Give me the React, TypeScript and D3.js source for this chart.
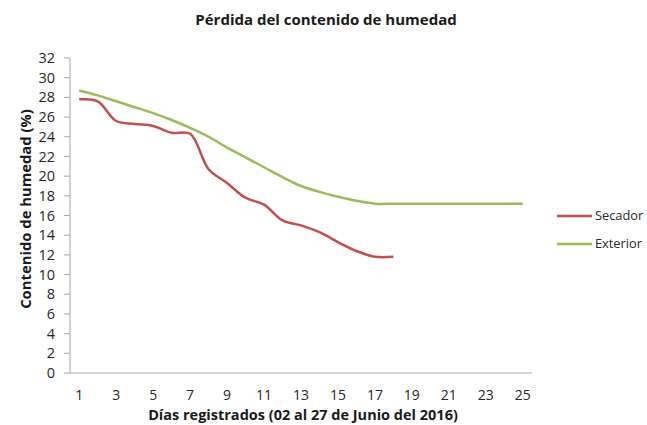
import React from 'react';
import * as d3 from 'd3';

const days = Array.from({ length: 25 }, (_, i) => i + 1);
const secador = [27.8, 27.6, 25.6, 25.3, 25.1, 24.4, 24.3, 20.7, 19.3, 17.8, 17.1, 15.5, 15.0, 14.3, 13.3, 12.4, 11.8, 11.8];
const exterior = [28.7, 28.2, 27.6, 27.0, 26.4, 25.7, 24.9, 24.0, 22.9, 21.9, 20.9, 19.9, 19.0, 18.4, 17.9, 17.5, 17.2, 17.2, 17.2, 17.2, 17.2, 17.2, 17.2, 17.2, 17.2];
const yTicks = d3.range(0, 33, 2);
const xTicks = days.filter(d => d % 2 === 1);

const series = [
  { name: 'Secador', values: secador, color: '#c0504d' },
  { name: 'Exterior', values: exterior, color: '#9bbb59' },
];

const W = 647;
const H = 425;
const font = "'Open Sans', 'Liberation Sans', sans-serif";

const App: React.FC = () => {
  const x = d3.scalePoint<number>().domain(days).range([70, 532]).padding(0.5);
  const y = d3.scaleLinear().domain([0, 32]).range([373, 58]);

  const line = d3.line<number>()
    .x((_, i) => x(days[i]) as number)
    .y(d => y(d))
    .curve(d3.curveCatmullRom.alpha(0.5));

  return (
    <svg width={W} height={H} style={{ position: 'absolute', left: 0, top: 0, background: '#fff' }} fontFamily={font}>
      <text x={326} y={25} textAnchor="middle" fontSize={15} fontWeight="bold" fill="#1a1a1a">
        Pérdida del contenido de humedad
      </text>

      {/* y axis */}
      <line x1={70} x2={70} y1={y(32)} y2={y(0)} stroke="#a6a6a6" strokeWidth={1} />
      {yTicks.map(t => (
        <g key={t}>
          <line x1={64} x2={70} y1={y(t)} y2={y(t)} stroke="#a6a6a6" />
          <text x={55} y={y(t)} dy="0.35em" textAnchor="end" fontSize={14.5} fill="#262626">{t}</text>
        </g>
      ))}

      {/* x axis */}
      <line x1={70} x2={532} y1={y(0)} y2={y(0)} stroke="#a6a6a6" strokeWidth={1} />
      {xTicks.map(t => (
        <text key={t} x={x(t)} y={395} dy="0.35em" textAnchor="middle" fontSize={14} fill="#262626">{t}</text>
      ))}

      <text x={303} y={420} textAnchor="middle" fontSize={14.5} fontWeight="bold" fill="#1a1a1a">
        Días registrados (02 al 27 de Junio del 2016)
      </text>
      <text transform={`translate(31,${209}) rotate(-90)`} textAnchor="middle" fontSize={14.8} fontWeight="bold" fill="#1a1a1a">
        Contenido de humedad (%)
      </text>

      {series.map(s => (
        <path key={s.name} d={line(s.values) || ''} fill="none" stroke={s.color} strokeWidth={2.5} />
      ))}

      {series.map((s, i) => (
        <g key={s.name} transform={`translate(0,${216 + i * 28})`}>
          <line x1={557} x2={592} y1={0} y2={0} stroke={s.color} strokeWidth={2.5} />
          <text x={595} y={0} dy="0.35em" fontSize={12.8} fill="#262626">{s.name}</text>
        </g>
      ))}
    </svg>
  );
};

export default App;
